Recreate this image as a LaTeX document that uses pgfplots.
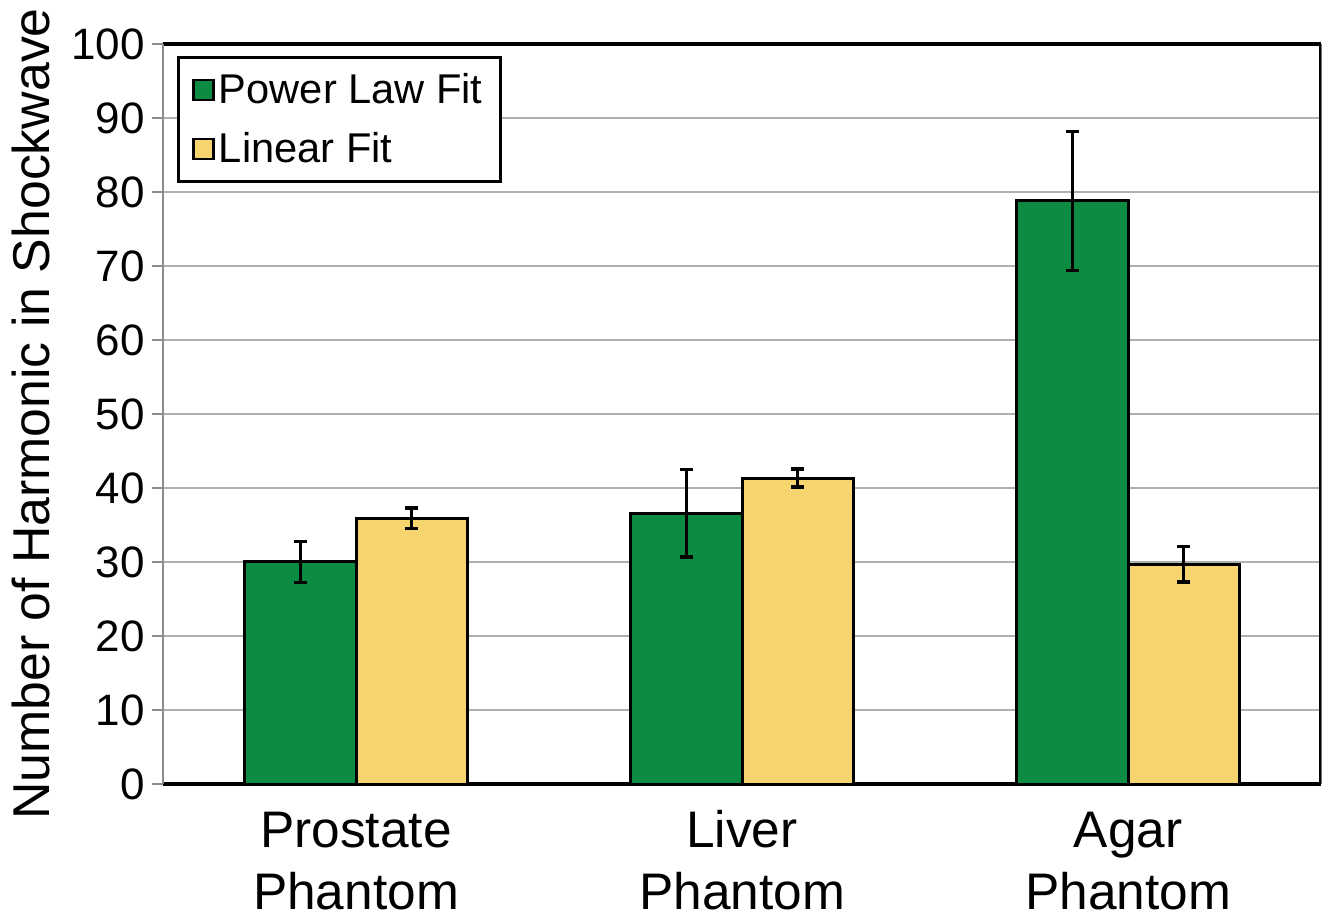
\documentclass[border=0pt]{standalone}
\usepackage{pgfplots}
\pgfplotsset{compat=1.18}
\usetikzlibrary{calc}
\usepackage{fontspec}
\setmainfont{Liberation Sans}
\definecolor{pgreen}{RGB}{12,140,67}
\definecolor{lyellow}{RGB}{247,213,110}
\definecolor{gridgray}{RGB}{175,175,175}
\definecolor{axgray}{RGB}{140,140,140}
\begin{document}
\begin{tikzpicture}
\begin{axis}[
  name=ax,
  scale only axis,
  width=579pt, height=370pt,
  xmin=-0.5, xmax=2.5,
  ymin=0, ymax=100,
  ytick={0,10,...,100},
  xtick={0,1,2},
  xticklabels={{\strut Prostate\\Phantom},{\strut Liver\\Phantom},{\strut Agar\\Phantom}},
  xticklabel style={align=center, font=\fontsize{25.7}{31}\selectfont, yshift=-1pt},
  yticklabel style={font=\fontsize{22}{26}\selectfont, xshift=0pt},
  /pgf/number format/assume math mode=true,
  ylabel={Number of Harmonic in Shockwave},
  ylabel style={font=\fontsize{25.9}{30}\selectfont, yshift=4pt},
  separate axis lines,
  x axis line style={black, line width=1.6pt},
  y axis line style={axgray, line width=1pt},
  ymajorgrids,
  grid style={gridgray, line width=1pt},
  major x tick style={draw=none},
  ytick pos=left,
  tick align=outside,
  major tick length=5.5pt,
  major y tick style={axgray, line width=1pt},
  ybar, bar width=0.288,
  legend style={at={(0.012,0.984)}, anchor=north west, draw=black, line width=1.5pt,
    font=\fontsize{20.8}{25}\selectfont, row sep=9pt, inner xsep=7pt, inner ysep=6pt},
  legend cell align=left,
]
\addplot+[bar shift=-0.144, fill=pgreen, draw=black, line width=1.5pt,
  legend image code/.code={\draw[fill=pgreen, draw=black, line width=1.3pt] (0pt,-5pt) rectangle (10pt,5pt);},
  error bars/.cd, y dir=both, y explicit,
  error bar style={black, line width=1.7pt},
  error mark options={black, mark size=3.2pt, line width=1.7pt, rotate=90}]
  coordinates {(0,30.0) +- (0,2.8) (1,36.6) +- (0,5.9) (2,78.8) +- (0,9.4)};
\addlegendentry{Power Law Fit}
\addplot+[bar shift=0.144, fill=lyellow, draw=black, line width=1.5pt,
  legend image code/.code={\draw[fill=lyellow, draw=black, line width=1.3pt] (0pt,-5pt) rectangle (10pt,5pt);},
  error bars/.cd, y dir=both, y explicit,
  error bar style={black, line width=1.7pt},
  error mark options={black, mark size=3.2pt, line width=1.7pt, rotate=90}]
  coordinates {(0,35.9) +- (0,1.4) (1,41.35) +- (0,1.2) (2,29.7) +- (0,2.4)};
\addlegendentry{Linear Fit}
\draw[black, line width=1.6pt] (rel axis cs:1,0) -- (rel axis cs:1,1);
\end{axis}
\pgfresetboundingbox
\path[use as bounding box] ($(ax.south west)+(-81.5pt,-68pt)$) rectangle ($(ax.north east)+(5pt,22pt)$);
\end{tikzpicture}
\end{document}
